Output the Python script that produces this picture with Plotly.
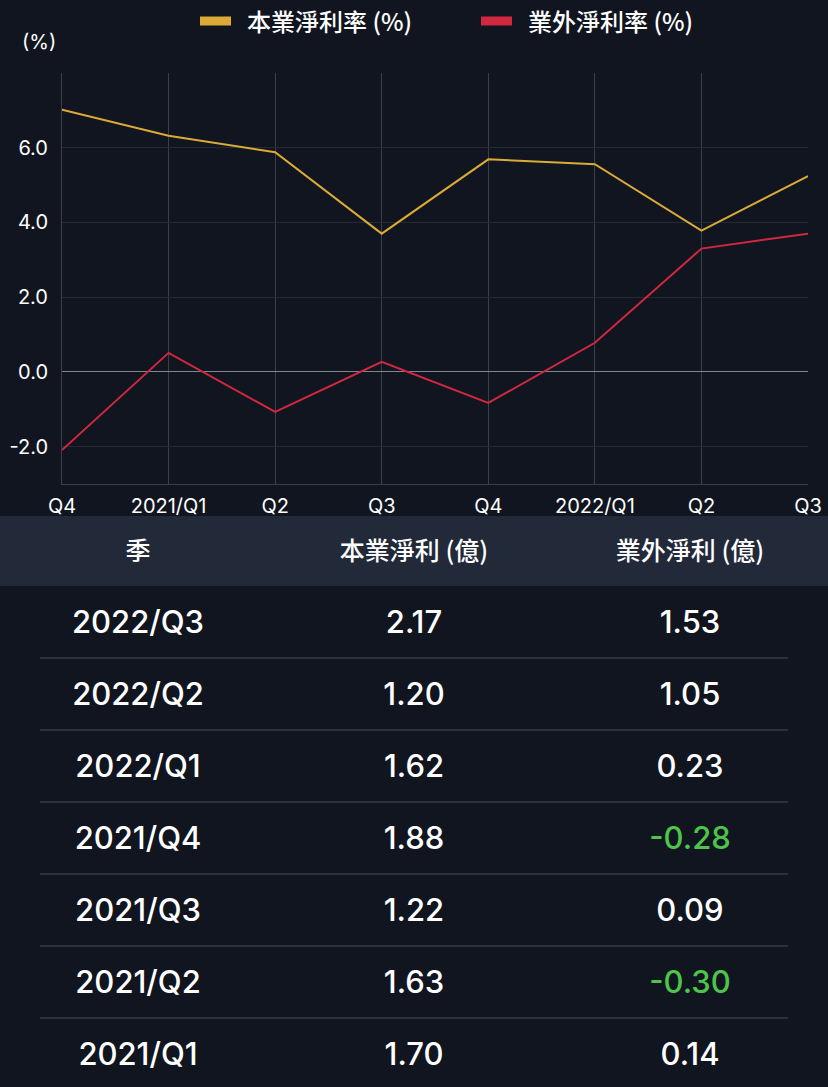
import plotly.graph_objects as go

# chart data (net margin %, by quarter)
quarters = ["2020/Q4", "2021/Q1", "2021/Q2", "2021/Q3", "2021/Q4", "2022/Q1", "2022/Q2", "2022/Q3"]
tick_labels = ["Q4", "2021/Q1", "Q2", "Q3", "Q4", "2022/Q1", "Q2", "Q3"]
core_margin = [7.02, 6.32, 5.88, 3.70, 5.69, 5.56, 3.78, 5.24]
nonop_margin = [-2.09, 0.51, -1.07, 0.27, -0.83, 0.78, 3.30, 3.70]
y_ticks = [-2, 0, 2, 4, 6]

# table data (億)
table_header = ["季", "本業淨利 (億)", "業外淨利 (億)"]
table_quarters = ["2022/Q3", "2022/Q2", "2022/Q1", "2021/Q4", "2021/Q3", "2021/Q2", "2021/Q1"]
core_profit = [2.17, 1.20, 1.62, 1.88, 1.22, 1.63, 1.70]
nonop_profit = [1.53, 1.05, 0.23, -0.28, 0.09, -0.30, 0.14]

W, H = 828, 1087
BG = "#11151f"
YELLOW = "#dcaa36"
RED = "#d1273f"
GREEN = "#4cc54a"
LATIN = "Inter, 'Noto Sans CJK TC', sans-serif"
CJK = "'Noto Sans CJK TC', Inter, sans-serif"

fig = go.Figure()

fig.add_trace(go.Scatter(x=quarters, y=core_margin, mode="lines",
                         line=dict(color=YELLOW, width=2), name="本業淨利率 (%)",
                         showlegend=False, xaxis="x", yaxis="y"))
fig.add_trace(go.Scatter(x=quarters, y=nonop_margin, mode="lines",
                         line=dict(color=RED, width=2), name="業外淨利率 (%)",
                         showlegend=False, xaxis="x", yaxis="y"))

# table as text on a second pair of axes: column index / row index
rows = list(range(len(table_quarters)))
fig.add_trace(go.Scatter(x=[0, 1, 2], y=[-1, -1, -1], mode="text", text=table_header,
                         textfont=dict(family=CJK, size=25, color="#ffffff", weight=500),
                         showlegend=False, hoverinfo="skip", xaxis="x2", yaxis="y3"))
fig.add_trace(go.Scatter(x=[0] * len(rows), y=rows, mode="text", text=table_quarters,
                         textfont=dict(family=LATIN, size=31, color="#ffffff", weight=500),
                         showlegend=False, hoverinfo="skip", xaxis="x2", yaxis="y3"))
fig.add_trace(go.Scatter(x=[1] * len(rows), y=rows, mode="text",
                         text=[f"{v:.2f}" for v in core_profit],
                         textfont=dict(family=LATIN, size=31, color="#ffffff", weight=500),
                         showlegend=False, hoverinfo="skip", xaxis="x2", yaxis="y3"))
fig.add_trace(go.Scatter(x=[2] * len(rows), y=rows, mode="text",
                         text=[f"{v:.2f}" for v in nonop_profit],
                         textfont=dict(family=LATIN, size=31, weight=500,
                                       color=[GREEN if v < 0 else "#ffffff" for v in nonop_profit]),
                         showlegend=False, hoverinfo="skip", xaxis="x2", yaxis="y3"))

shapes = []
# header band
shapes.append(dict(type="rect", xref="x2", yref="y2", x0=-0.5, x1=2.5, y0=-1.48, y1=-0.5,
                   fillcolor="#222939", line_width=0, layer="below"))
# row separators
for r in rows[:-1]:
    shapes.append(dict(type="line", xref="x2", yref="y2", x0=-0.355, x1=2.355,
                       y0=r + 0.5, y1=r + 0.5, line=dict(color="#2c313d", width=2)))

# legend swatches
legend_items = [("本業淨利率 (%)", YELLOW, 200), ("業外淨利率 (%)", RED, 481)]
annotations = []
for label, color, px in legend_items:
    shapes.append(dict(type="rect", xref="paper", yref="paper",
                       x0=px / W, x1=(px + 31) / W, y0=1 - 25.5 / H, y1=1 - 16.5 / H,
                       fillcolor=color, line_width=0))
    annotations.append(dict(text=label, xref="paper", yref="paper", x=(px + 45) / W, y=1 - 21 / H,
                            xanchor="left", yanchor="middle", showarrow=False,
                            font=dict(family=CJK, size=24, color="#ffffff", weight=500)))

annotations.append(dict(text="(%)", xref="paper", yref="paper", x=20 / W, y=1 - 42 / H,
                        xanchor="left", yanchor="middle", showarrow=False,
                        font=dict(family=LATIN, size=20, color="#ffffff")))

table_range = [6.458, -1.472]
text_shift = 3.5 / 72  # nudge text baseline to sit centred in each row

fig.update_layout(
    width=W, height=H,
    margin=dict(l=0, r=0, t=0, b=0, pad=0),
    paper_bgcolor=BG, plot_bgcolor=BG,
    showlegend=False,
    shapes=shapes,
    annotations=annotations,
    xaxis=dict(domain=[62 / W, 808 / W], range=[0, len(quarters) - 1],
               tickvals=quarters, ticktext=tick_labels,
               tickfont=dict(family=LATIN, size=20, color="#ffffff"),
               showgrid=True, gridcolor="#3a3f4a", gridwidth=1,
               showline=True, linecolor="#3a3f4a", linewidth=1,
               ticks="", ticklabelstandoff=4, zeroline=False,
               automargin=False, fixedrange=True),
    yaxis=dict(domain=[1 - 484 / H, 1 - 73 / H], range=[-3, 8],
               tickvals=y_ticks, ticktext=[f"{v:.1f}" for v in y_ticks],
               tickfont=dict(family=LATIN, size=20, color="#ffffff"),
               showgrid=True, gridcolor="#242934", gridwidth=1,
               zeroline=True, zerolinecolor="#80848c", zerolinewidth=1,
               showline=True, linecolor="#3a3f4a", linewidth=1,
               ticks="", ticklabelstandoff=9, automargin=False, fixedrange=True),
    xaxis2=dict(domain=[0, 1], range=[-0.5, 2.5], visible=False,
                automargin=False, fixedrange=True),
    yaxis2=dict(domain=[0, 1 - 516 / H], range=table_range, visible=False,
                automargin=False, fixedrange=True),
    yaxis3=dict(domain=[0, 1 - 516 / H], anchor="x2", overlaying="y2",
                range=[table_range[0] - text_shift, table_range[1] - text_shift],
                visible=False, automargin=False, fixedrange=True),
)

fig.write_html("out.html", config={"displayModeBar": False},
               post_script="document.body.style.margin='0';"
                           "document.body.style.background='#11151f';")
